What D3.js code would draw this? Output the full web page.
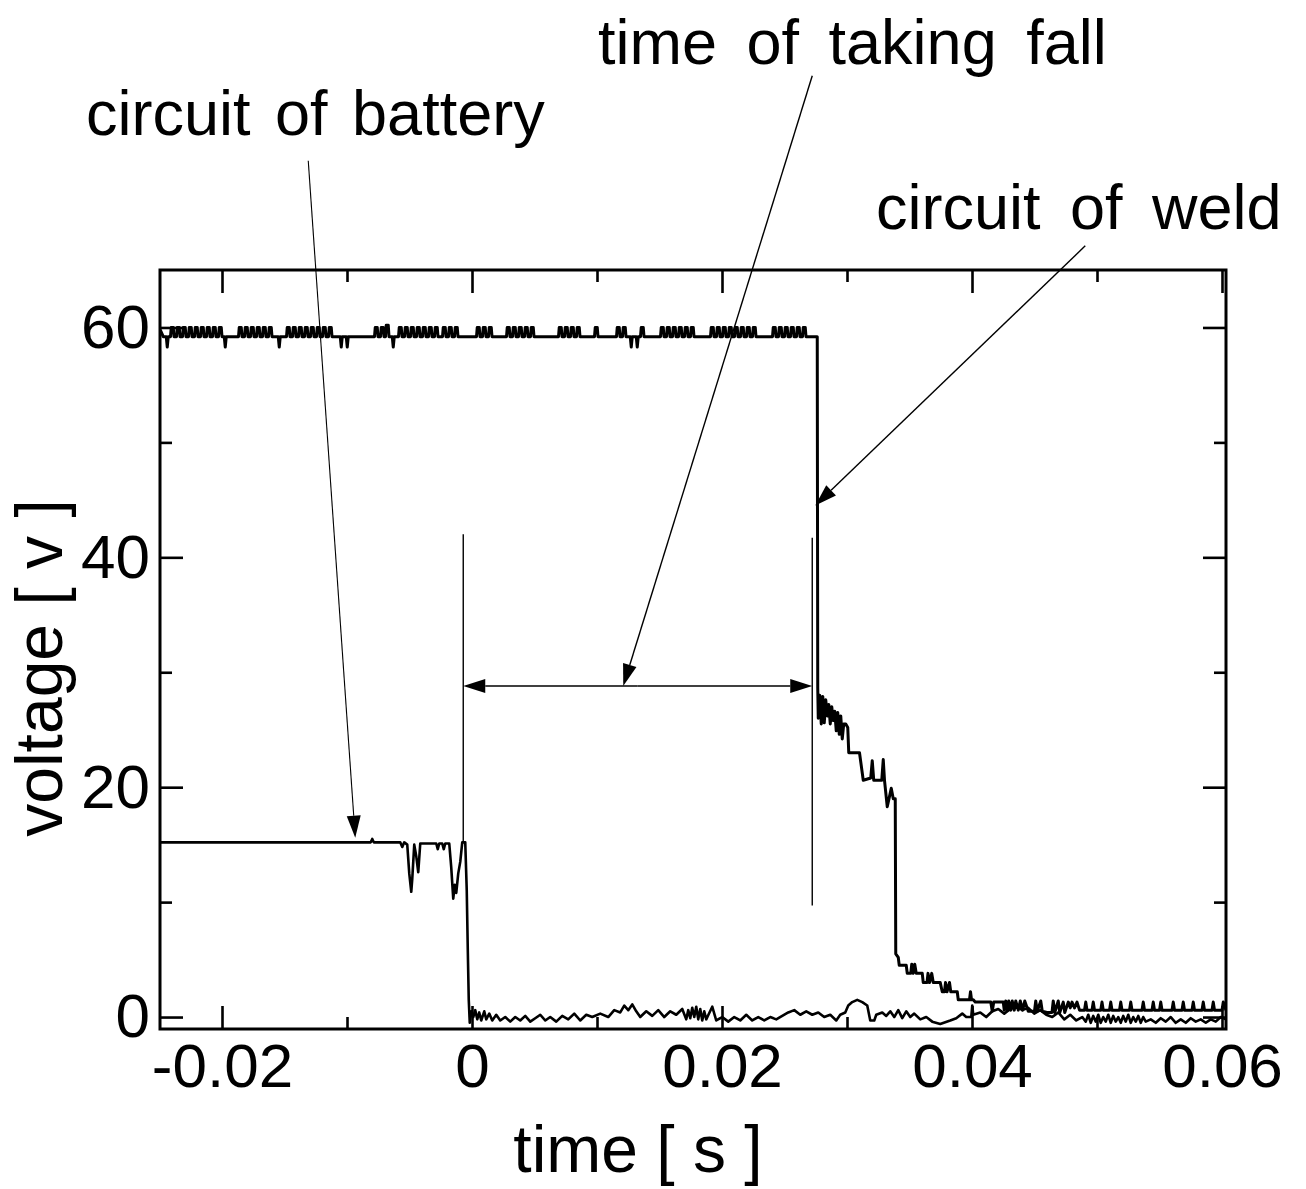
<!DOCTYPE html>
<html><head><meta charset="utf-8">
<script src="https://cdn.jsdelivr.net/npm/d3@7"></script>
<style>body{margin:0;background:#fff} text{font-family:"Liberation Sans",Arial,Helvetica,sans-serif;fill:#000}</style>
</head><body><svg id="c" width="1306" height="1189"></svg>
<script>
// ---- data (time in ms, voltage in V) ----
const xTickVals = [-20, 0, 20, 40, 60];
const xTickLabels = ["-0.02", "0", "0.02", "0.04", "0.06"];
const xMinorVals = [-10, 10, 30, 50];
const yTickVals = [0, 20, 40, 60];
const yTickLabels = ["0", "20", "40", "60"];
const yMinorVals = [10, 30, 50];

const weldBase = 59.2;
const weldStart = [[-24.94, 59.8], [-24.70, 59.2]];
const weldEvents = [[-24.38,58.3],[-23.98,60.0],[-23.50,60.0],[-23.02,60.0],[-22.54,60.0],[-22.06,60.0],[-21.58,60.0],[-21.10,60.0],[-20.62,60.0],[-20.14,60.0],[-19.74,58.3],
[-18.54,60.0],[-18.06,60.0],[-17.58,60.0],[-17.10,60.0],[-16.62,60.0],[-16.14,60.0],[-15.42,58.3],[-14.70,60.0],[-14.22,60.0],[-13.74,60.0],[-13.26,60.0],[-12.78,60.0],[-12.30,60.0],[-11.82,60.0],[-11.34,60.0],
[-10.46,58.3],[-9.98,58.3],[-7.66,60.0],[-7.18,60.0],[-6.78,60.2],[-6.30,58.3],[-5.74,60.0],[-5.26,60.0],[-4.78,60.0],[-4.30,60.0],[-3.82,60.0],[-3.34,60.0],[-2.86,60.0],[-2.22,60.0],[-1.74,60.0],[-1.26,60.0],
[0.50,60.0],[0.98,60.0],[1.46,60.0],[2.90,60.0],[3.38,60.0],[3.86,60.0],[4.34,60.0],[4.82,60.0],[7.06,60.0],[7.54,60.0],[8.02,60.0],[8.50,60.0],[9.94,60.0],[11.70,60.0],[12.18,60.0],[12.74,58.3],[13.22,58.3],[13.62,60.0],
[15.22,60.0],[15.70,60.0],[16.18,60.0],[16.66,60.0],[17.14,60.0],[17.62,60.0],[19.22,60.0],[19.70,60.0],[20.18,60.0],[20.66,60.0],[21.14,60.0],[21.62,60.0],[22.10,60.0],[22.58,60.0],
[24.18,60.0],[24.66,60.0],[25.14,60.0],[25.62,60.0],[26.10,60.0],[26.58,60.0]];
const weldFall = [[27.62,59.2],[27.66,28.6],[27.70,26.0],[27.82,28.0],[27.94,25.5],[28.06,27.9],[28.18,25.6],[28.30,27.6],[28.42,26.2],[28.54,27.2],[28.66,25.5],[28.78,27.0],[28.90,25.8],[29.02,26.6],[29.14,24.9],[29.26,26.5],[29.38,24.6],[29.50,26.2],[29.62,24.2],[29.74,25.5],[29.90,25.5],[30.06,25.2],[30.14,23.0],[31.00,23.0],[31.30,20.6],[31.90,20.8],[32.02,22.3],[32.14,20.6],[32.78,20.6],[32.90,22.4],[33.00,20.6],[33.22,18.3],[33.54,19.9],[33.70,19.0],[33.86,19.0],
[33.90,5.5],[34.10,5.2],[34.18,4.5],[34.74,4.5],[34.82,3.8],[35.10,3.8],[35.18,4.6],[35.30,3.8],[35.42,4.6],[35.54,3.8],[36.02,3.8],[36.10,3.0],[36.40,3.0],[36.48,3.8],[36.60,3.0],[36.78,3.8],[36.90,3.0],[37.46,3.0],[37.62,2.2],[37.80,2.2],[37.88,3.0],[38.00,2.2],[38.20,3.0],[38.30,2.2],[38.82,2.2],[38.90,1.5],[39.80,1.5],[39.88,2.2],[39.96,1.5],[40.10,1.5],[40.26,1.3],[41.50,1.3],[41.62,0.5],[41.74,1.3],[42.50,1.3],
[42.58,0.6],[42.70,1.4],[42.82,0.6],[42.94,1.4],[43.10,0.6],[43.22,1.4],[43.38,0.6],[43.50,1.4],[43.70,0.6],[43.86,1.4],[44.06,0.6],[44.22,1.4],[44.50,0.5],[45.00,0.5],[45.10,1.4],[45.22,0.5],[45.50,1.4],[45.62,0.5],[46.00,0.4],[46.40,0.4],[46.50,1.4],[46.62,0.4],[46.90,1.4],[47.02,0.4],[47.30,1.3],[47.42,0.4],[47.70,1.3],[47.86,0.8],[48.00,1.3],[48.20,0.8],[48.40,1.3],[48.60,0.6],[49.00,0.6],[49.10,1.3],[49.20,0.6],[49.60,0.6],[49.70,1.3],[49.80,0.6],[50.30,0.6],[50.40,1.3],[50.50,0.6],[51.00,0.6],[51.10,1.3],[51.20,0.6],[51.80,0.6],[51.90,1.3],[52.00,0.6],[52.60,0.6],[52.70,1.3],[52.80,0.6],[53.60,0.6],[53.70,1.3],[53.80,0.6],[54.40,0.6],[54.50,1.3],[54.60,0.6],[55.00,0.6],[55.10,1.3],[55.20,0.6],[56.00,0.6],[56.10,1.3],[56.20,0.6],[56.80,0.6],[56.90,1.3],[57.00,0.6],[57.60,0.6],[57.70,1.3],[57.80,0.6],[58.40,0.6],[58.50,1.3],[58.60,0.6],[59.20,0.6],[59.30,1.3],[59.40,0.6],[60.00,0.6],[60.10,1.3],[60.32,0.6]];

const battery = [[-24.94,15.2],[-8.10,15.2],[-7.98,15.5],[-7.86,15.2],[-5.74,15.2],[-5.58,14.8],[-5.42,15.2],[-5.18,15.0],[-5.02,12.5],[-4.86,10.9],[-4.78,12.0],[-4.62,15.0],[-4.46,14.0],[-4.30,12.6],[-4.14,15.1],[-2.86,15.1],[-2.74,14.6],[-2.62,15.1],[-2.38,15.1],[-2.26,14.6],[-2.14,15.1],[-1.82,15.1],[-1.66,13.0],[-1.50,10.3],[-1.38,11.5],[-1.26,10.8],[-1.10,12.5],[-0.94,13.5],[-0.78,15.2],[-0.54,15.2],[-0.42,11.0],[-0.34,6.0],[-0.26,1.5],[-0.18,-0.5],
[-0.06,0.5],[0.10,0.0],[0.26,0.6],[0.42,-0.2],[0.58,0.4],[0.74,-0.3],[0.98,0.5],[1.14,-0.2],[1.38,0.3],[1.62,-0.3],[1.94,0.2],[2.26,-0.3],[2.66,0.0],[3.06,-0.4],[3.46,0.0],[3.86,-0.3],[4.26,0.1],[4.66,-0.4],[5.06,-0.1],[5.46,0.2],[5.86,-0.3],[6.26,0.0],[6.74,-0.4],[7.22,0.1],[7.70,-0.2],[8.18,0.3],[8.66,-0.3],[9.14,0.2],[9.62,0.0],[10.26,0.3],[10.90,0.0],[11.38,0.6],[11.86,0.4],[12.18,1.0],[12.50,0.6],[12.82,1.1],[13.14,0.5],[13.46,0.0],[13.94,0.5],[14.42,0.1],[14.90,0.6],[15.38,0.0],[15.86,0.5],[16.34,0.2],[16.82,0.7],[17.14,-0.2],[17.30,0.6],[17.46,-0.1],[17.62,0.8],[17.78,0.0],[17.94,0.9],[18.10,-0.2],[18.26,0.7],[18.42,-0.3],[18.58,0.5],[18.74,-0.2],[19.22,0.9],[19.54,-0.3],[20.02,0.0],[20.50,-0.4],[20.98,0.0],[21.46,-0.3],[21.94,0.2],[22.42,-0.3],[22.90,0.0],[23.38,-0.3],[23.86,0.0],[24.34,-0.2],[24.82,0.1],[25.30,0.4],[25.78,0.6],[26.26,0.2],[26.74,0.5],[27.22,0.2],[27.70,0.4],[28.18,0.0],[28.66,0.2],[29.14,-0.3],[29.46,0.2],[29.86,0.4],[30.10,1.0],[30.42,1.3],[30.82,1.5],[31.22,1.3],[31.62,1.0],[31.86,-0.3],[32.18,-0.3],[32.34,0.2],[32.82,0.4],[33.14,0.1],[33.46,0.5],[33.78,0.0],[34.10,0.6],[34.42,-0.1],[34.74,0.5],[35.06,0.0],[35.38,0.3],[35.86,-0.2],[36.34,0.0],[36.82,-0.4],[37.46,-0.6],[38.26,-0.3],[38.74,-0.1],[39.22,0.3],[39.54,0.0],[39.94,0.0],[40.02,1.0],[40.10,0.2],[40.66,0.4],[41.14,0.0],[41.62,0.5],[42.10,0.7],[42.58,0.3],[43.06,0.7],[43.54,1.0],[44.02,0.6],[44.50,0.8],[44.98,0.3],[45.46,0.6],[45.94,0.2],[46.42,0.0],[46.90,0.4],[47.38,-0.2],[47.86,0.2],[48.34,-0.3],[48.82,0.0],[49.10,-0.4],[49.30,0.2],[49.50,-0.5],[49.70,0.1],[49.90,-0.4],[50.10,0.2],[50.30,-0.5],[50.50,0.0],[50.70,-0.4],[50.90,0.2],[51.10,-0.5],[51.30,0.1],[51.50,-0.4],[51.70,0.0],[51.90,-0.5],[52.10,0.1],[52.30,-0.4],[52.50,0.2],[52.70,-0.5],[52.90,0.0],[53.10,-0.4],[53.30,0.1],[53.50,-0.5],[53.70,0.0],[53.90,-0.4],[54.30,-0.2],[54.70,-0.5],[55.10,-0.1],[55.50,-0.4],[55.90,0.0],[56.30,-0.5],[56.70,-0.2],[57.10,-0.5],[57.50,-0.1],[57.90,-0.4],[58.30,-0.2],[58.70,-0.5],[59.10,-0.2],[59.50,-0.4],[59.90,0.0],[60.32,-0.2]];

const annoText = ["circuit of battery", "time of taking fall", "circuit of weld"];
const annoFrom = [[-13.10, 74.5], [27.22, 81.9], [49.06, 67.1]];
const annoTo = [[-9.34, 15.6], [12.10, 28.8], [27.46, 44.5]];
const markerT = [-0.70, 27.22];
const markerTop = [42.0, 41.7];
const markerBottom = [15.2, 9.7];
const spanV = 28.8;

const xTitle = "time [ s ]";
const yTitle = "voltage [ v ]";

// ---- drawing ----
const svg = d3.select("#c");
svg.append("rect").attr("width", 1306).attr("height", 1189).attr("fill", "#fff");
const L = 160, R = 1226, T = 270, B = 1029;
const x = d3.scaleLinear().domain([-24.96, 60.32]).range([L, R]);
const y = d3.scaleLinear().domain([-1.04, 65]).range([B, T]);

svg.append("clipPath").attr("id", "clip").append("rect").attr("x", L).attr("y", T).attr("width", R - L).attr("height", B - T);

function drawAxis(gen, vals, size, labels, tr) {
  const g = svg.append("g").attr("transform", tr)
    .call(gen.tickValues(vals).tickSize(size).tickSizeOuter(0).tickPadding(labels ? 14 : 0)
      .tickFormat(labels ? ((d, i) => labels[i]) : () => ""));
  g.select(".domain").remove();
  g.selectAll(".tick line").attr("stroke", "#000").attr("stroke-width", 2.6);
  g.selectAll("text").attr("font-size", 62).attr("font-family", '"Liberation Sans", Arial, sans-serif').attr("fill", "#000");
  return g;
}
drawAxis(d3.axisBottom(x), xTickVals, -23, xTickLabels, `translate(0,${B})`);
drawAxis(d3.axisBottom(x), xMinorVals, -12, null, `translate(0,${B})`);
drawAxis(d3.axisTop(x), xTickVals, -23, null, `translate(0,${T})`);
drawAxis(d3.axisTop(x), xMinorVals, -12, null, `translate(0,${T})`);
const yl = drawAxis(d3.axisLeft(y), yTickVals, -23, yTickLabels, `translate(${L},0)`);
yl.selectAll("text").attr("x", -10);
drawAxis(d3.axisLeft(y), yMinorVals, -12, null, `translate(${L},0)`);
drawAxis(d3.axisRight(y), yTickVals, -23, null, `translate(${R},0)`);
drawAxis(d3.axisRight(y), yMinorVals, -12, null, `translate(${R},0)`);

svg.append("rect").attr("x", L).attr("y", T).attr("width", R - L).attr("height", B - T)
  .attr("fill", "none").attr("stroke", "#000").attr("stroke-width", 3);

// series
const weldPts = weldStart.slice();
weldEvents.forEach(([t, v]) => {
  if (v > weldBase) weldPts.push([t - 0.14, weldBase], [t - 0.08, v], [t + 0.08, v], [t + 0.14, weldBase]);
  else weldPts.push([t - 0.08, weldBase], [t, v], [t + 0.08, weldBase]);
});
weldFall.forEach(p => weldPts.push(p));

const line = d3.line().x(d => x(d[0])).y(d => y(d[1]));
const plot = svg.append("g").attr("clip-path", "url(#clip)");
plot.append("path").datum(battery).attr("d", line).attr("fill", "none").attr("stroke", "#000").attr("stroke-width", 2.6).attr("stroke-linejoin", "round");
plot.append("path").datum(weldPts).attr("d", line).attr("fill", "none").attr("stroke", "#000").attr("stroke-width", 3).attr("stroke-linejoin", "round");

// annotations
function arrow(x1, y1, x2, y2, sw) {
  const len = 22, w = 7;
  const dx = x2 - x1, dy = y2 - y1, d = Math.hypot(dx, dy);
  const ux = dx / d, uy = dy / d;
  const bx = x2 - ux * len, by = y2 - uy * len;
  svg.append("line").attr("x1", x1).attr("y1", y1).attr("x2", bx).attr("y2", by).attr("stroke", "#000").attr("stroke-width", sw);
  svg.append("path").attr("d", `M${x2},${y2}L${bx - uy * w},${by + ux * w}L${bx + uy * w},${by - ux * w}Z`).attr("fill", "#000");
}
annoFrom.forEach((f, i) => arrow(x(f[0]), y(f[1]), x(annoTo[i][0]), y(annoTo[i][1]), i === 0 ? 1.1 : 1.4));

markerT.forEach((t, i) => {
  svg.append("line").attr("x1", x(t)).attr("x2", x(t)).attr("y1", y(markerTop[i])).attr("y2", y(markerBottom[i]))
    .attr("stroke", "#000").attr("stroke-width", 1.4);
});
const mid = (x(markerT[0]) + x(markerT[1])) / 2;
arrow(mid, y(spanV), x(markerT[0]), y(spanV), 1.4);
arrow(mid, y(spanV), x(markerT[1]), y(spanV), 1.4);

const annoPos = [[86, 135, 63, 7], [598, 64, 63, 12], [876, 229, 63, 12]];
annoText.forEach((s, i) => {
  svg.append("text").attr("x", annoPos[i][0]).attr("y", annoPos[i][1])
    .attr("font-size", annoPos[i][2]).style("word-spacing", annoPos[i][3] + "px").text(s);
});

svg.append("text").attr("x", 638).attr("y", 1172).attr("text-anchor", "middle").attr("font-size", 66).text(xTitle);
svg.append("text").attr("transform", "translate(62,668) rotate(-90)").attr("text-anchor", "middle").attr("font-size", 66).text(yTitle);
</script></body></html>
